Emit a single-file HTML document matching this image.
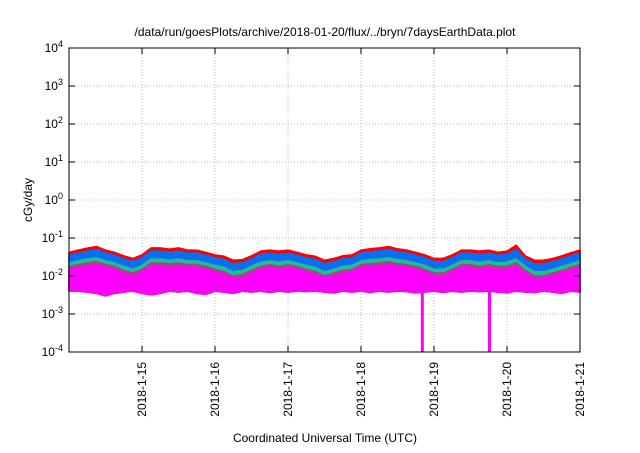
<!DOCTYPE html>
<html><head><meta charset="utf-8"><style>
body{margin:0;background:#fff;width:640px;height:448px;overflow:hidden;font-family:"Liberation Sans",sans-serif}
</style></head><body>
<svg id="c" width="640" height="448" xmlns="http://www.w3.org/2000/svg" font-family="Liberation Sans, sans-serif">
<text x="325" y="36" font-size="12" text-anchor="middle">/data/run/goesPlots/archive/2018-01-20/flux/../bryn/7daysEarthData.plot</text>
<text x="32" y="200" font-size="12" text-anchor="middle" transform="rotate(-90 32 200)">cGy/day</text>
<text x="325" y="442" font-size="12" text-anchor="middle">Coordinated Universal Time (UTC)</text>
<g id="grid"></g><g id="marks"></g><g id="axes"></g>
</svg>
<script>
const xTickLabels=["2018-1-15","2018-1-16","2018-1-17","2018-1-18","2018-1-19","2018-1-20","2018-1-21"];
const xTickDays=[1,2,3,4,5,6,7];
const yTickExps=[-4,-3,-2,-1,0,1,2,3,4];
// 3-hourly samples from 2018-1-14 00:00 (57 points)
const red=[0.042,0.048,0.054,0.06,0.048,0.042,0.034,0.029,0.036,0.055,0.055,0.051,0.055,0.048,0.048,0.042,0.036,0.033,0.026,0.027,0.034,0.045,0.048,0.045,0.048,0.042,0.036,0.033,0.026,0.029,0.034,0.036,0.048,0.052,0.055,0.06,0.052,0.048,0.042,0.036,0.029,0.029,0.036,0.048,0.048,0.045,0.048,0.042,0.045,0.065,0.034,0.026,0.026,0.029,0.034,0.041,0.048];
const blue=[0.035,0.04,0.045,0.05,0.04,0.035,0.028,0.024,0.03,0.045,0.045,0.042,0.045,0.04,0.04,0.035,0.03,0.027,0.021,0.022,0.028,0.037,0.04,0.037,0.04,0.035,0.03,0.027,0.021,0.024,0.028,0.03,0.04,0.043,0.045,0.05,0.043,0.04,0.035,0.03,0.024,0.024,0.03,0.04,0.04,0.037,0.04,0.035,0.037,0.05,0.028,0.021,0.021,0.024,0.028,0.034,0.04];
const green=[0.022,0.025,0.028,0.03,0.025,0.022,0.018,0.015,0.019,0.028,0.028,0.026,0.028,0.025,0.025,0.022,0.019,0.017,0.013,0.014,0.018,0.023,0.025,0.023,0.025,0.022,0.019,0.017,0.013,0.015,0.018,0.019,0.025,0.027,0.028,0.03,0.027,0.025,0.022,0.019,0.015,0.015,0.019,0.025,0.025,0.023,0.025,0.022,0.023,0.028,0.018,0.013,0.013,0.015,0.018,0.021,0.025];
const purple=[0.018,0.02,0.022,0.024,0.02,0.018,0.014,0.012,0.015,0.022,0.022,0.021,0.022,0.02,0.02,0.018,0.015,0.013,0.01,0.011,0.014,0.018,0.02,0.018,0.02,0.018,0.015,0.013,0.01,0.012,0.014,0.015,0.02,0.021,0.022,0.024,0.021,0.02,0.018,0.015,0.012,0.012,0.015,0.02,0.02,0.018,0.02,0.018,0.018,0.022,0.014,0.01,0.01,0.012,0.014,0.017,0.02];
const magHigh=[0.015,0.017,0.018,0.02,0.017,0.015,0.012,0.01,0.013,0.018,0.018,0.017,0.018,0.017,0.017,0.015,0.013,0.011,0.009,0.009,0.012,0.015,0.017,0.015,0.017,0.015,0.013,0.011,0.009,0.01,0.012,0.013,0.017,0.018,0.018,0.02,0.018,0.017,0.015,0.013,0.01,0.01,0.013,0.017,0.017,0.015,0.017,0.015,0.015,0.018,0.012,0.009,0.009,0.01,0.012,0.014,0.017];
const magLow=[0.004,0.004,0.0038,0.0035,0.003,0.0035,0.0038,0.004,0.0035,0.0032,0.0035,0.004,0.0038,0.004,0.0035,0.0033,0.004,0.0038,0.0035,0.004,0.0038,0.004,0.0037,0.004,0.0038,0.004,0.0039,0.004,0.0038,0.0036,0.004,0.0038,0.004,0.0037,0.004,0.0038,0.004,0.0039,0.0036,0.0038,0.004,0.0037,0.004,0.0038,0.004,0.0039,0.004,0.0038,0.0036,0.004,0.0038,0.0037,0.004,0.0038,0.0035,0.004,0.0038];
const dipDays=[4.84,5.76];
const L=69,R=580,T=48,B=352,NS="http://www.w3.org/2000/svg";
const xS=d=>L+(R-L)*d/7, yS=v=>B-(Math.log10(v)+4)*(B-T)/8;
const stepDays=3/24;
function el(t,a,p){const e=document.createElementNS(NS,t);for(const k in a)e.setAttribute(k,a[k]);document.getElementById(p).appendChild(e);return e;}
yTickExps.forEach(e=>{const y=yS(Math.pow(10,e));
 if(e>-4&&e<4){const g=el('line',{x1:L,x2:R,y1:y,y2:y,stroke:'#bbb','stroke-dasharray':'1,2'},'grid');}
 el('line',{x1:L,x2:L+6,y1:y,y2:y,stroke:'#000'},'axes');el('line',{x1:R,x2:R-6,y1:y,y2:y,stroke:'#000'},'axes');
 const t=el('text',{x:L-6,y:y+4,'font-size':12,'text-anchor':'end'},'axes');
 t.innerHTML='10<tspan dy="-5" font-size="9">'+e+'</tspan>';});
xTickDays.forEach((d,i)=>{const x=xS(d);
 if(d<7){const g=el('line',{x1:x,x2:x,y1:T,y2:B,stroke:'#bbb','stroke-dasharray':'1,2'},'grid');}
 el('line',{x1:x,x2:x,y1:B,y2:B-6,stroke:'#000'},'axes');el('line',{x1:x,x2:x,y1:T,y2:T+6,stroke:'#000'},'axes');
 const t=el('text',{x:x+4,y:B+10,'font-size':12,'text-anchor':'end',transform:`rotate(-90 ${x+4} ${B+10})`},'axes');t.textContent=xTickLabels[i];});
function band(top,bot,color,name){let p='';top.forEach((v,i)=>p+=(i?'L':'M')+xS(i*stepDays)+','+yS(v));
 for(let i=bot.length-1;i>=0;i--)p+='L'+xS(i*stepDays)+','+yS(bot[i]);
 const e=el('path',{d:p+'Z',fill:color,stroke:color,'stroke-width':1.5,'stroke-linejoin':'bevel'},'marks');}
band(red,magLow,'#ff0000','series-red');band(blue,magLow,'#0a6ef0','series-blue');band(green,magLow,'#1cbf98','series-green');band(purple,magLow,'#a04a80','series-purple');band(magHigh,magLow,'#ff00ff','series-magenta');
dipDays.forEach(d=>{const e=el('rect',{x:xS(d)-1.5,y:yS(0.004),width:3,height:B-yS(0.004),fill:'#ff00ff'},'marks');});
const f=el('rect',{x:L,y:T,width:R-L,height:B-T,fill:'none',stroke:'#000','stroke-width':1},'axes');
</script>
</body></html>
